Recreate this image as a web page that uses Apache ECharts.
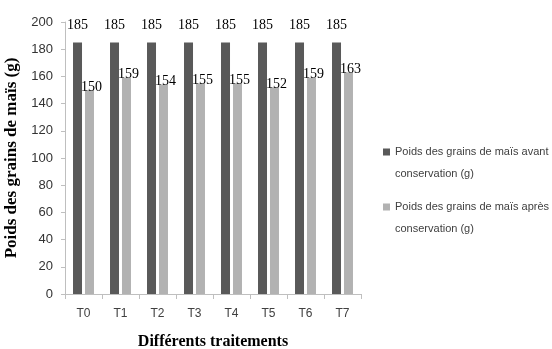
<!DOCTYPE html>
<html>
<head>
<meta charset="utf-8">
<script src="https://cdn.jsdelivr.net/npm/echarts@6/dist/echarts.min.js"></script>
<style>
  html, body { margin: 0; padding: 0; background: #fff; }
  #chart { width: 552px; height: 349px; }
</style>
</head>
<body>
<div id="chart"></div>
<script>
// Treatments on the x axis
const categories = ['T0', 'T1', 'T2', 'T3', 'T4', 'T5', 'T6', 'T7'];
// Kernel weight before storage (g)
const avantValues = [185, 185, 185, 185, 185, 185, 185, 185];
// Kernel weight after storage (g)
const apresValues = [150, 159, 154, 155, 155, 152, 159, 163];
// Value-axis tick labels
const yTicks = [0, 20, 40, 60, 80, 100, 120, 140, 160, 180, 200];

const serieAvant = 'Poids des grains de maïs avant conservation (g)';
const serieApres = 'Poids des grains de maïs après conservation (g)';

const sans = '"Liberation Sans", Arial, sans-serif';
const serif = '"Liberation Serif", "Times New Roman", serif';

// Legend swatch: a small square pinned to the top of a taller box,
// so that it lines up with the first line of a two-line legend entry.
const swatch = 'path://M0,0h7v7h-7z M0,28.99h0.01v0.01h-0.01z';

const chart = echarts.init(document.getElementById('chart'), null, { renderer: 'canvas' });

chart.setOption({
  animation: false,
  backgroundColor: '#ffffff',
  grid: {
    left: 65, right: 191, top: 22, bottom: 55,
    containLabel: false,
    outerBoundsMode: 'none'
  },
  legend: {
    orient: 'vertical',
    left: 383,
    top: 141,
    padding: 0,
    itemWidth: 7,
    itemHeight: 29,
    itemGap: 11,
    icon: swatch,
    data: [serieAvant, serieApres],
    formatter: function (name) {
      return name.replace(' conservation', '\nconservation');
    },
    textStyle: { fontFamily: sans, fontSize: 11, color: '#404040', lineHeight: 22 }
  },
  xAxis: {
    type: 'category',
    data: categories,
    axisLine: { lineStyle: { color: '#bfbfbf' } },
    axisTick: { show: true, length: 5, alignWithLabel: false, lineStyle: { color: '#bfbfbf' } },
    axisLabel: { fontFamily: sans, fontSize: 12, color: '#404040', margin: 14 },
    name: 'Différents traitements',
    nameLocation: 'middle',
    nameGap: 40,
    nameTextStyle: { fontFamily: serif, fontSize: 16, fontWeight: 'bold', color: '#000' }
  },
  yAxis: {
    type: 'value',
    min: yTicks[0],
    max: yTicks[yTicks.length - 1],
    interval: yTicks[1] - yTicks[0],
    axisLine: { show: true, lineStyle: { color: '#bfbfbf' } },
    axisTick: { show: true, length: 4, lineStyle: { color: '#bfbfbf' } },
    splitLine: { show: false },
    axisLabel: { fontFamily: sans, fontSize: 13, color: '#333333', margin: 12 },
    name: 'Poids des grains de maïs (g)',
    nameLocation: 'middle',
    nameGap: 42,
    nameTextStyle: { fontFamily: serif, fontSize: 17, fontWeight: 'bold', color: '#000' }
  },
  series: [
    {
      name: serieAvant,
      type: 'bar',
      data: avantValues,
      barWidth: 9,
      barGap: '33%',
      itemStyle: { color: '#595959' },
      label: {
        show: true,
        position: 'top',
        distance: 10,
        fontFamily: serif,
        fontSize: 14,
        color: '#000'
      }
    },
    {
      name: serieApres,
      type: 'bar',
      data: apresValues,
      barWidth: 9,
      barGap: '33%',
      itemStyle: { color: '#b2b2b2' },
      label: {
        show: true,
        position: 'top',
        distance: 0,
        offset: [2, 4],
        fontFamily: serif,
        fontSize: 14,
        color: '#000'
      }
    }
  ]
});
</script>
</body>
</html>
